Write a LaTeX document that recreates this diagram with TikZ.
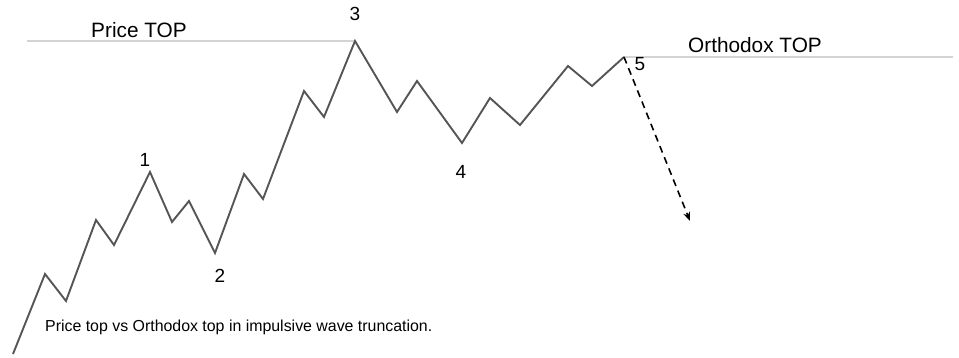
\documentclass[tikz,border=0pt]{standalone}
\usepackage{fontspec}
\setmainfont{Liberation Sans}
\usetikzlibrary{arrows.meta}
\definecolor{wavegray}{HTML}{555555}
\definecolor{topgray}{HTML}{D4D4D4}
\tikzset{
  wave/.style={draw=wavegray, line width=1.9pt, line join=miter},
  topline/.style={draw=topgray, line width=1.8pt},
  fall/.style={draw=black, line width=1.6pt, dash pattern=on 7pt off 5pt, -{Stealth[length=9pt,width=7pt]}},
  toplabel/.style={inner sep=0pt, anchor=base, font=\fontsize{20.8}{24}\selectfont},
  numlabel/.style={inner sep=0pt, font=\fontsize{19}{22}\selectfont},
  caption/.style={inner sep=0pt, anchor=base west, font=\fontsize{15.9}{18}\selectfont}
}
\begin{document}
\begin{tikzpicture}[x=1pt,y=-1pt]
\useasboundingbox (0,0) rectangle (959,357);
% wave vertices
\coordinate (p0) at (13,354);
\coordinate (p1) at (45,274);
\coordinate (p2) at (66,301);
\coordinate (p3) at (96,220);
\coordinate (p4) at (114,245);
\coordinate (w1) at (150,172);
\coordinate (p6) at (172,222);
\coordinate (p7) at (189,201);
\coordinate (w2) at (215,253);
\coordinate (p9) at (244,174);
\coordinate (p10) at (263,199);
\coordinate (p11) at (304,91);
\coordinate (p12) at (324,117);
\coordinate (w3) at (355,41);
\coordinate (p14) at (397,112);
\coordinate (p15) at (417,81);
\coordinate (w4) at (462,143);
\coordinate (p17) at (490,98);
\coordinate (p18) at (520,125);
\coordinate (p19) at (568,66);
\coordinate (p20) at (592,86);
\coordinate (w5) at (624,57);
\coordinate (pricestart) at (27,41);
\coordinate (orthoend) at (953,57);
\coordinate (fallend) at (690,221);
% top lines
\draw[topline] (pricestart) -- (w3);
\draw[topline] (w5) -- (orthoend);
% wave
\draw[wave] (p0) -- (p1) -- (p2) -- (p3) -- (p4) -- (w1) -- (p6) -- (p7) -- (w2) -- (p9) -- (p10) -- (p11) -- (p12) -- (w3) -- (p14) -- (p15) -- (w4) -- (p17) -- (p18) -- (p19) -- (p20) -- (w5);
% projected fall
\draw[fall] (w5) -- (fallend);
% labels
\node[toplabel] (pricetop) at (139,37) {Price TOP};
\node[toplabel] (orthotop) at (755,52) {Orthodox TOP};
\node[numlabel] (n1) at (145,160) {1};
\node[numlabel] (n2) at (220,276) {2};
\node[numlabel] (n3) at (355,14) {3};
\node[numlabel] (n4) at (461,172) {4};
\node[numlabel] (n5) at (640,64) {5};
\node[caption] (cap) at (45,331) {Price top vs Orthodox top in impulsive wave truncation.};
\end{tikzpicture}
\end{document}
